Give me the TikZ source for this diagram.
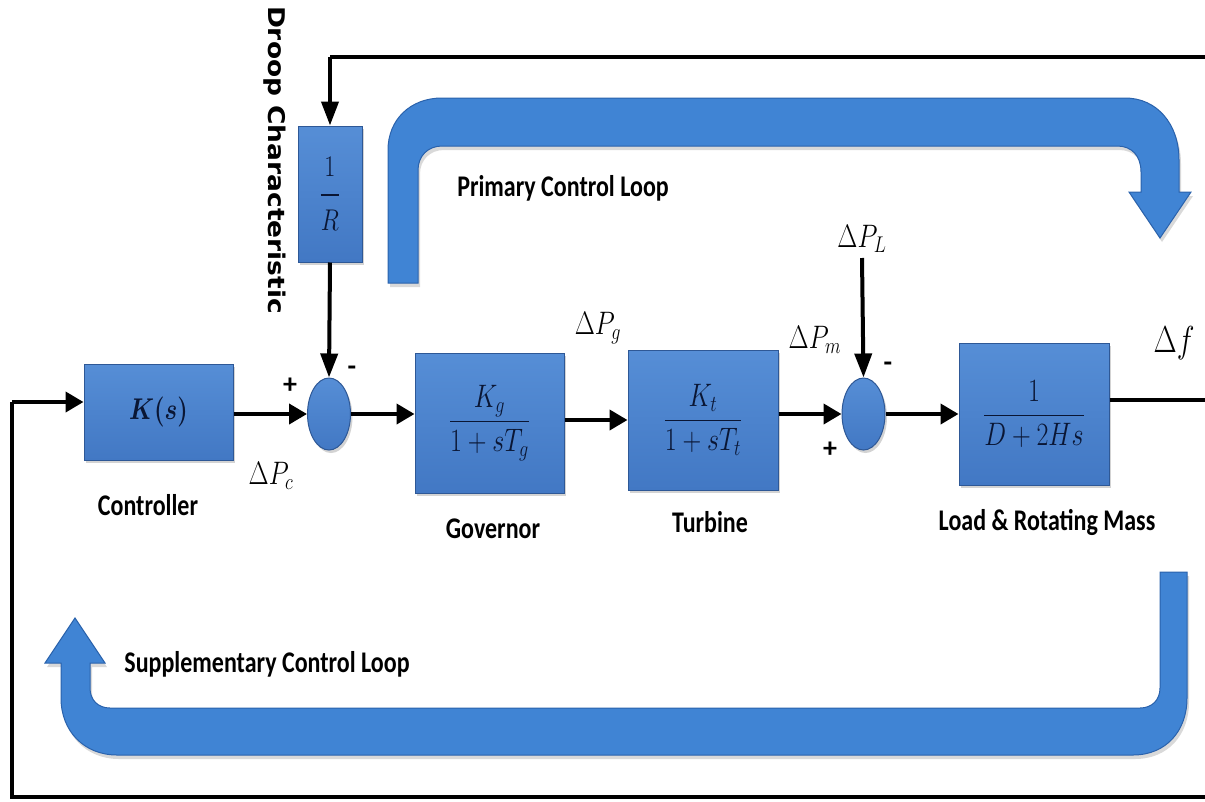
\RequirePackage{fix-cm}
\documentclass[tikz,border=0pt]{standalone}
\usepackage{amsmath}
\usepackage{graphicx}
\usepackage{fontspec}
\setmainfont{Carlito}
\newfontfamily\droopfont{DejaVu Sans}
\usetikzlibrary{arrows.meta,shapes.geometric,shadows}

\definecolor{blockblue}{RGB}{66,120,196}
\definecolor{blocktop}{RGB}{86,142,214}
\definecolor{blockedge}{RGB}{46,88,150}
\definecolor{loopblue}{RGB}{64,132,212}
\definecolor{loopedge}{RGB}{42,98,172}
\definecolor{mathink}{RGB}{10,22,52}

% text in this drawing is set slightly taller than wide
\newcommand{\tall}[1]{\scalebox{1}[1.25]{#1}}

\tikzset{
  x=1pt, y=-1pt,
  htip/.tip={Triangle[length=18pt,width=20pt]},
  vtip/.tip={Triangle[length=24pt,width=17pt]},
  sig/.style={line width=4pt, black},
  harr/.style={sig, -htip},
  varr/.style={sig, -vtip},
  block/.style={draw=blockedge, line width=1pt, top color=blocktop, bottom color=blockblue,
    drop shadow={opacity=0.35, shadow xshift=2pt, shadow yshift=-3pt},
    inner sep=0pt, text=mathink, font=\fontsize{26}{30}\selectfont},
  sumpt/.style={ellipse, draw=blockedge, line width=1pt, top color=blocktop, bottom color=blockblue,
    drop shadow={opacity=0.35, shadow xshift=2pt, shadow yshift=-3pt},
    minimum width=43pt, minimum height=72pt, inner sep=0pt},
  loopshape/.style={fill=loopblue, draw=loopedge, line width=1pt,
    drop shadow={opacity=0.3, shadow xshift=2pt, shadow yshift=-4pt}},
  caption/.style={font=\bfseries\fontsize{24}{28}\selectfont, inner sep=0pt},
  sign/.style={font=\bfseries\fontsize{28}{32}\selectfont, inner sep=0pt},
  sigtag/.style={font=\fontsize{26}{30}\selectfont, inner sep=0pt},
}

\begin{document}
\begin{tikzpicture}
\useasboundingbox (0,0) rectangle (1205,801);

% curved loop arrows
\path[loopshape] (388,283) -- (388,150) .. controls (388,120) and (410,98) .. (442,98)
  -- (1125,98) .. controls (1157,98) and (1179,124) .. (1179,160) -- (1179,192)
  -- (1191,192) -- (1160,238) -- (1129,192) -- (1141,192) -- (1141,172)
  .. controls (1141,156) and (1132,146) .. (1117,146) -- (442,146)
  .. controls (428,146) and (418,156) .. (418,170) -- (418,283) -- cycle;

\path[loopshape] (1160,572) -- (1187,572) -- (1187,698)
  .. controls (1187,731) and (1166,755) .. (1133,755) -- (117,755)
  .. controls (84,755) and (61,731) .. (61,698) -- (61,663) -- (45,663)
  -- (75,618) -- (105,663) -- (90,663) -- (90,688)
  .. controls (90,700) and (98,708) .. (110,708) -- (1140,708)
  .. controls (1152,708) and (1160,700) .. (1160,688) -- cycle;

\node[caption] (primary) at (563,188) {\tall{Primary Control Loop}};
\node[caption] (supp) at (267,664) {\tall{Supplementary Control Loop}};

% blocks
\node[block, minimum width=149pt, minimum height=96pt, font=\fontsize{24}{28}\selectfont] (ks) at (158.5,412) {\tall{$\boldsymbol{K(s)}$}};
\node[block, minimum width=64pt, minimum height=136pt, font=\fontsize{24}{28}\selectfont] (invr) at (330,194)
  {\tall{$\dfrac{1\rule[-11pt]{0pt}{0pt}}{\rule{0pt}{25pt}R}$}};
\node[sumpt] (sum1) at (329,414) {};
\node[block, minimum width=149pt, minimum height=140pt] (gov) at (489.5,423) {\tall{$\dfrac{K_g}{1+sT_g}$}};
\node[block, minimum width=150pt, minimum height=140pt] (turb) at (703,420) {\tall{$\dfrac{K_t}{1+sT_t}$}};
\node[sumpt] (sum2) at (863.5,414) {};
\node[block, minimum width=150pt, minimum height=142pt] (load) at (1034,414) {\tall{$\dfrac{1}{D+2Hs}$}};

% block names
\node[caption] (ctrlname) at (148,505) {\tall{Controller}};
\node[caption] (govname) at (493,529) {\tall{Governor}};
\node[caption] (turbname) at (710,522) {\tall{Turbine}};
\node[caption] (loadname) at (1047,522) {\tall{Load \& Rotating Mass}};
\node[rotate=-90, inner sep=0pt, font=\droopfont\bfseries\fontsize{23}{26}\selectfont] (droop) at (275,160)
  {\scalebox{1.15}[1]{Droop Characteristic}};

% signal names and signs
\node[sigtag] (pc) at (271,476) {\tall{$\Delta P_c$}};
\node[sigtag] (pg) at (598,328) {\tall{$\Delta P_g$}};
\node[sigtag] (pm) at (815,340) {\tall{$\Delta P_m$}};
\node[sigtag] (pl) at (862,239) {\tall{$\Delta P_L$}};
\node[sigtag, font=\fontsize{30}{34}\selectfont] (df) at (1174,343) {\tall{$\Delta f$}};
\node[sign] (plus1) at (290,386) {+};
\node[sign] (minus1) at (352,371) {-};
\node[sign] (minus2) at (888,367) {-};
\node[sign] (plus2) at (830,450) {+};

% frame coordinates of the feedback paths
\coordinate (outR) at (1212,400);
\coordinate (botR) at (1212,797);
\coordinate (botL) at (12,797);
\coordinate (inL) at (12,402);
\coordinate (topR) at (1212,57);
\coordinate (topL) at (330,57);
\coordinate (plTop) at (862,258);

% signal paths
\draw[sig] (load.east |- outR) -- (outR) -- (botR) -- (botL) -- (inL);
\draw[harr] (inL) -- (inL -| ks.west);
\draw[sig] (outR) -- (topR) -- (topL);
\draw[varr] (topL) -- (invr.north);
\draw[varr] (invr.south) -- (sum1.north);
\draw[harr] (sum1.west -| ks.east) -- (sum1.west);
\draw[harr] (sum1.east) -- (sum1.east -| gov.west);
\draw[harr] (turb.west -| gov.east) -- (turb.west);
\draw[harr] (sum2.west -| turb.east) -- (sum2.west);
\draw[harr] (sum2.east) -- (sum2.east -| load.west);
\draw[varr] (plTop) -- (sum2.north);
\end{tikzpicture}
\end{document}
